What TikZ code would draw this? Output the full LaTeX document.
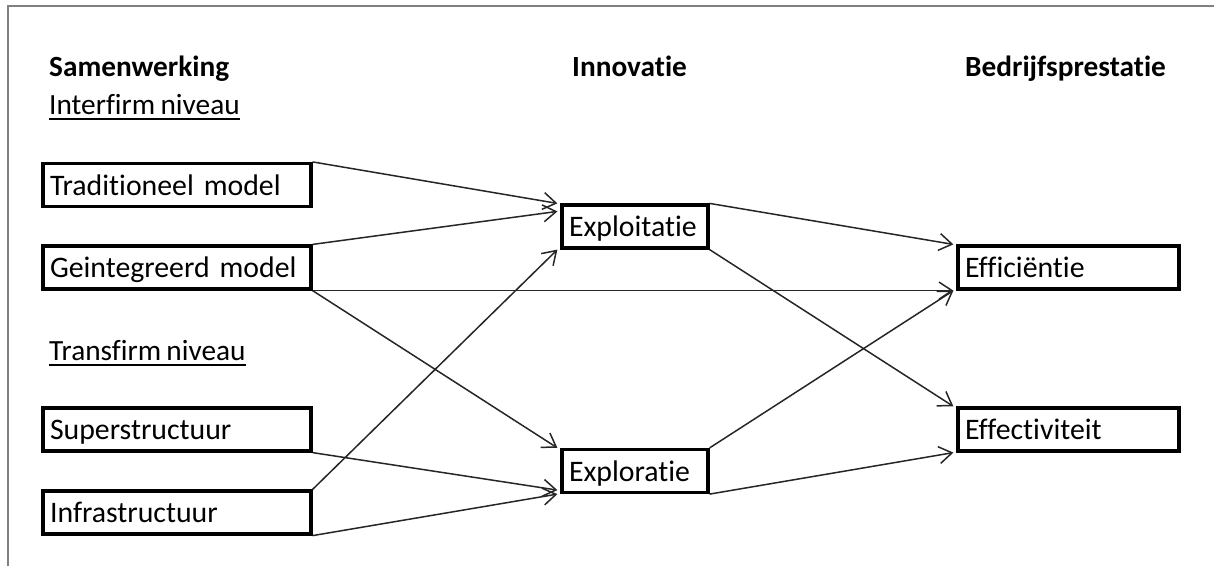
\documentclass[tikz,border=0pt]{standalone}
\usepackage{fontspec}
\setmainfont{Carlito}[Ligatures={NoCommon},WordSpace=0.8]
\usetikzlibrary{arrows.meta}
\begin{document}
\begin{tikzpicture}[x=1pt,y=-1pt,
  box/.style={draw=black, line width=3.2pt, inner xsep=7pt, inner ysep=0pt,
    minimum height=43pt, text height=22pt, text depth=2pt, align=left,
    font=\fontsize{29.8pt}{35pt}\selectfont},
  conn/.style={draw=black!85, line width=1.5pt,
    -{Straight Barb[length=13pt,width=17pt,line width=1.5pt]}},
  head/.style={anchor=base west, inner sep=0pt, font=\fontsize{29.3pt}{35pt}\selectfont\bfseries},
  sub/.style={anchor=base west, inner sep=0pt, font=\fontsize{29.3pt}{35pt}\selectfont},
  uline/.style={draw=black, line width=1.6pt},
  frame/.style={draw=black!50, line width=2pt}]
\useasboundingbox (0,0) rectangle (1214,566);
\draw[frame] (8,566) -- (8,6) -- (1214,6);

% headers
\node[head] (samen) at (49,76) {Samenwerking};
\node[head] (innov) at (572,76) {Innovatie};
\node[head] (bedr) at (965,76) {Bedrijfsprestatie};
\node[sub] (inter) at (49,114) {Interfirm niveau};
\draw[uline] ([yshift=-5pt]inter.base west) -- ([yshift=-5pt]inter.base east);
\node[sub] (trans) at (49,360) {Transfirm niveau};
\draw[uline] ([yshift=-5pt]trans.base west) -- ([yshift=-5pt]trans.base east);

% boxes
\node[box, text width=254pt] (trad) at (177,185) {Traditioneel model};
\node[box, text width=254pt] (geint) at (177,267.5) {Geintegreerd model};
\node[box, text width=254pt] (super) at (177,429.5) {Superstructuur};
\node[box, text width=254pt] (infra) at (177,512.5) {Infrastructuur};
\node[box, text width=132pt] (exploit) at (635,226.5) {Exploitatie};
\node[box, text width=132pt] (explor) at (635,471) {Exploratie};
\node[box, text width=207pt] (effic) at (1068.5,267.5) {Efficiëntie};
\node[box, text width=207pt] (effect) at (1068.5,429.5) {Effectiviteit};

% connectors
\draw[conn] (trad.north east) -- ([xshift=-3pt]exploit.north west);
\draw[conn] (geint.north east) -- ([xshift=-3pt,yshift=-8pt]exploit.north west);
\draw[conn] (geint.south east) -- ([xshift=-3pt]explor.north west);
\draw[conn] (geint.south east) -- ([xshift=-3pt]effic.south west);
\draw[conn] (super.south east) -- ([xshift=-3pt,yshift=4pt]explor.south west);
\draw[conn] (infra.north east) -- ([xshift=-3pt]exploit.south west);
\draw[conn] (infra.south east) -- ([xshift=-3pt]explor.south west);
\draw[conn] (exploit.north east) -- ([xshift=-3pt]effic.north west);
\draw[conn] (exploit.south east) -- ([xshift=-3pt]effect.north west);
\draw[conn] (explor.north east) -- ([xshift=-3pt]effic.south west);
\draw[conn] (explor.south east) -- ([xshift=-3pt]effect.south west);
\end{tikzpicture}
\end{document}
